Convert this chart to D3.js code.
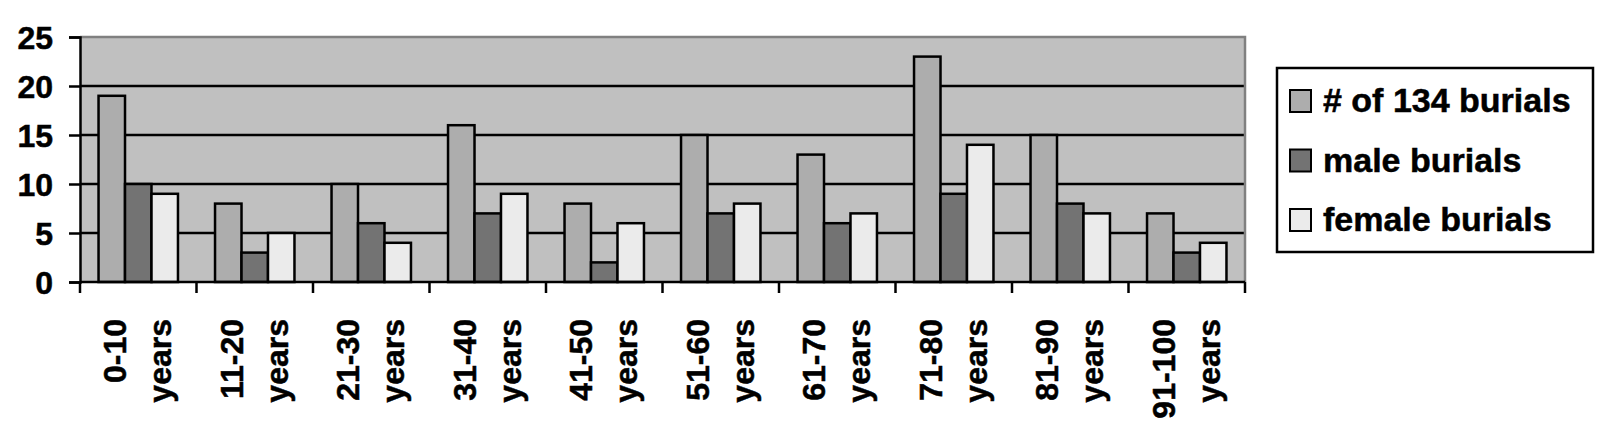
<!DOCTYPE html>
<html>
<head>
<meta charset="utf-8">
<script src="https://cdn.jsdelivr.net/npm/d3@7"></script>
<style>
  html, body { margin: 0; padding: 0; background: #ffffff; }
  svg { display: block; }
  text { font-family: "Liberation Sans", Arial, sans-serif; font-weight: bold; fill: #000; stroke: #000; stroke-width: 0.5px; }
</style>
</head>
<body>
<svg id="chart" width="1605" height="433"></svg>
<script>
// ---- data ----
const categories = ["0-10 years", "11-20 years", "21-30 years", "31-40 years", "41-50 years",
                    "51-60 years", "61-70 years", "71-80 years", "81-90 years", "91-100 years"];
const seriesNames = ["# of 134 burials", "male burials", "female burials"];
const totalBurials  = [19, 8, 10, 16, 8, 15, 13, 23, 15, 7];
const maleBurials   = [10, 3, 6, 7, 2, 7, 6, 9, 8, 3];
const femaleBurials = [9, 5, 4, 9, 6, 8, 7, 14, 7, 4];
const yTicks = [0, 5, 10, 15, 20, 25];

const seriesValues = [totalBurials, maleBurials, femaleBurials];
const colors = ["#adadad", "#737373", "#ebebeb"];

const svg = d3.select("#chart");
const plot = { left: 80, right: 1245, top: 37, bottom: 282 };

const x0 = d3.scaleBand().domain(categories).range([plot.left, plot.right]).paddingInner(0).paddingOuter(0);
const x1 = d3.scaleBand().domain(d3.range(seriesNames.length)).range([0, x0.bandwidth()])
             .paddingInner(0).paddingOuter(0.7);
const y = d3.scaleLinear().domain([0, 25]).range([plot.bottom, plot.top]);

// plot background
svg.append("rect")
  .attr("x", plot.left).attr("y", plot.top)
  .attr("width", plot.right - plot.left).attr("height", plot.bottom - plot.top)
  .attr("fill", "#c0c0c0");

// gridlines
svg.append("g").selectAll("line")
  .data(yTicks.filter(t => t > 0 && t < 25))
  .join("line")
  .attr("x1", plot.left).attr("x2", plot.right)
  .attr("y1", d => y(d)).attr("y2", d => y(d))
  .attr("stroke", "#000").attr("stroke-width", 2.5);

// top & right gray border
svg.append("path")
  .attr("d", `M${plot.left},${y(25)}H${plot.right}V${plot.bottom}`)
  .attr("fill", "none").attr("stroke", "#808080").attr("stroke-width", 2.5);

// bars
const groups = svg.append("g").selectAll("g")
  .data(categories)
  .join("g")
  .attr("transform", d => `translate(${x0(d)},0)`);

groups.selectAll("rect")
  .data((d, i) => seriesValues.map((vals, s) => ({ s, v: vals[i] })))
  .join("rect")
  .attr("x", d => x1(d.s))
  .attr("width", x1.bandwidth())
  .attr("y", d => y(d.v))
  .attr("height", d => y(0) - y(d.v))
  .attr("fill", d => colors[d.s])
  .attr("stroke", "#000").attr("stroke-width", 2.5);

// y axis
const yAxis = d3.axisLeft(y).tickValues(yTicks).tickSize(11).tickPadding(16);
const yg = svg.append("g").attr("transform", `translate(${plot.left},0)`).call(yAxis);
yg.select(".domain").attr("stroke", "#000").attr("stroke-width", 2.5);
yg.selectAll(".tick line").attr("stroke", "#000").attr("stroke-width", 2.5);
yg.selectAll(".tick text")
  .attr("font-size", 32).attr("font-family", null).attr("dy", "0.36em");

// x axis (ticks at category boundaries)
const xg = svg.append("g");
xg.append("line")
  .attr("x1", plot.left).attr("x2", plot.right)
  .attr("y1", plot.bottom).attr("y2", plot.bottom)
  .attr("stroke", "#000").attr("stroke-width", 2.5);
const boundaries = categories.map(c => x0(c)).concat([plot.right]);
xg.selectAll("line.tk")
  .data(boundaries)
  .join("line").attr("class", "tk")
  .attr("x1", d => d).attr("x2", d => d)
  .attr("y1", plot.bottom).attr("y2", plot.bottom + 11)
  .attr("stroke", "#000").attr("stroke-width", 2.5);

// x labels, rotated, two lines
const xl = xg.selectAll("g.lbl")
  .data(categories)
  .join("g").attr("class", "lbl")
  .attr("transform", d => `translate(${x0(d) + x0.bandwidth() / 2},319) rotate(-90)`);
xl.each(function(d) {
  const parts = d.split(" ");
  const g = d3.select(this);
  g.append("text").attr("text-anchor", "end").attr("font-size", 32)
    .attr("x", 0).attr("y", -12).text(parts[0]);
  g.append("text").attr("text-anchor", "end").attr("font-size", 32)
    .attr("x", 0).attr("y", 33).text(parts[1]);
});

// legend
const legend = svg.append("g");
legend.append("rect")
  .attr("x", 1277).attr("y", 68).attr("width", 316).attr("height", 184)
  .attr("fill", "#fff").attr("stroke", "#000").attr("stroke-width", 2.5);
const rowY = d3.scalePoint().domain(d3.range(seriesNames.length)).range([101, 220]);
const li = legend.selectAll("g.item")
  .data(seriesNames)
  .join("g").attr("class", "item")
  .attr("transform", (d, i) => `translate(0,${rowY(i)})`);
li.append("rect")
  .attr("x", 1290).attr("y", -11).attr("width", 21).attr("height", 22)
  .attr("fill", (d, i) => colors[i]).attr("stroke", "#000").attr("stroke-width", 2);
li.append("text")
  .attr("x", 1323).attr("y", 11).attr("font-size", 34)
  .text(d => d);
</script>
</body>
</html>
